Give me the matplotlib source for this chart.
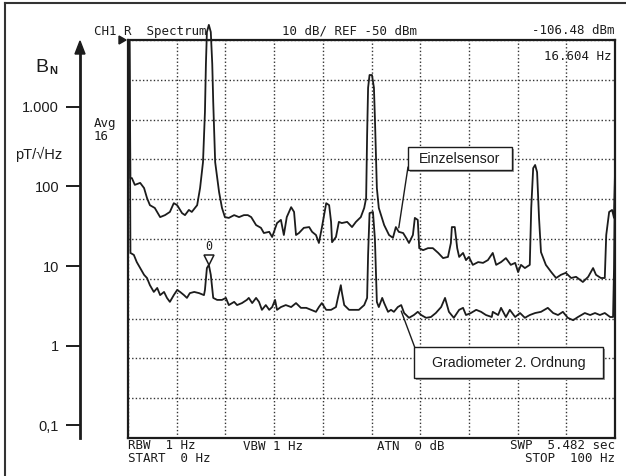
import numpy as np
import matplotlib
matplotlib.use('Agg')
import matplotlib.pyplot as plt
from matplotlib.lines import Line2D
from matplotlib.patches import Rectangle, Polygon
from matplotlib.transforms import offset_copy

# Einzelsensor trace: frequency (Hz) / level (dBm)
upper_f = [0.0, 0.3, 0.5, 0.8, 1.4, 2.5, 3.3, 3.9, 4.5, 5.5, 6.6, 7.6, 8.6, 9.4, 10.1,
           11.1, 11.7, 12.5, 13.1, 14.2, 14.8, 15.4, 15.8, 16.0, 16.2, 16.6, 17.0, 17.3,
           17.5, 17.9, 18.7, 19.3, 19.9, 20.7, 21.8, 22.8, 23.8, 24.6, 25.3, 26.3, 27.3,
           27.9, 29.0, 29.6, 30.6, 31.4, 32.0, 32.6, 33.5, 34.1, 34.5, 35.1, 36.1, 37.2,
           37.8, 38.6, 39.2, 39.8, 40.7, 41.3, 41.7, 41.9, 42.7, 43.3, 43.9, 45.0, 46.0,
           46.8, 47.8, 48.5, 48.9, 49.1, 49.3, 49.6, 50.1, 50.5, 50.7, 51.1, 51.5, 52.6,
           53.6, 54.4, 55.0, 55.6, 56.5, 57.1, 57.7, 58.5, 58.9, 59.5, 59.8, 60.6, 61.6,
           62.6, 63.7, 64.7, 65.7, 66.3, 66.5, 67.1, 67.6, 68.0, 68.8, 69.4, 70.0, 70.8,
           71.9, 72.9, 73.9, 74.9, 75.6, 76.6, 77.6, 78.6, 79.5, 80.1, 80.7, 81.5, 82.5,
           82.8, 83.2, 83.6, 84.0, 84.4, 84.8, 85.8, 86.9, 87.9, 88.9, 89.9, 91.0, 92.0,
           93.4, 94.5, 95.5, 96.1, 97.1, 97.9, 98.2, 98.8, 99.4, 99.8, 100.0]
upper_db = [-50, -50, -84.7, -84.7, -86.4, -85.9, -87.2, -89.7, -91.5, -92.2, -94.5, -94.0,
            -93.2, -91.0, -91.5, -93.5, -94.0, -92.7, -93.2, -91.5, -87.2, -80.7, -68.1,
            -56.0, -48.0, -46.2, -48.0, -56.0, -65.6, -80.7, -88.2, -92.2, -94.5, -94.7,
            -94.0, -94.5, -94.0, -94.0, -94.5, -96.5, -97.2, -98.5, -98.2, -99.5, -96.0,
            -95.2, -99.0, -94.5, -92.0, -93.2, -99.0, -98.5, -97.2, -97.0, -98.2, -99.0,
            -101.0, -97.2, -91.0, -91.5, -95.7, -100.8, -99.5, -95.7, -96.0, -95.7, -97.0,
            -95.7, -94.5, -92.2, -89.7, -73.9, -62.0, -58.8, -58.8, -62.0, -69.6, -87.2,
            -92.2, -96.5, -99.0, -99.7, -97.0, -98.2, -98.5, -99.7, -101.0, -99.0, -94.7,
            -95.2, -102.3, -102.8, -102.3, -102.3, -103.5, -104.8, -104.5, -101.0, -97.0,
            -97.0, -102.3, -104.5, -103.5, -105.3, -104.5, -106.5, -105.8, -106.0, -105.3,
            -103.5, -106.5, -105.8, -104.8, -106.5, -106.0, -108.3, -106.5, -107.3, -106.5,
            -92.2, -82.2, -81.4, -83.2, -94.7, -103.3, -106.5, -108.3, -109.8, -109.0,
            -108.5, -109.8, -109.5, -110.8, -109.5, -107.3, -109.0, -109.8, -109.8, -99.0,
            -93.2, -92.7, -94.7, -83.2]

# Gradiometer 2. Ordnung trace
lower_f = [0.0, 0.3, 0.5, 1.2, 1.8, 2.5, 3.3, 3.9, 4.5, 5.3, 6.0, 6.6, 7.4, 8.0, 8.6, 9.4,
           10.1, 10.7, 11.5, 12.1, 12.7, 13.6, 14.6, 15.6, 15.8, 16.2, 16.6, 17.0, 17.5,
           18.3, 19.3, 20.1, 20.7, 21.8, 22.4, 23.4, 24.4, 24.8, 25.5, 26.3, 26.9, 27.5,
           28.3, 29.0, 29.6, 30.2, 30.6, 31.4, 32.4, 33.5, 34.5, 35.5, 36.6, 37.6, 38.6,
           39.2, 39.8, 40.7, 41.7, 42.7, 43.1, 43.7, 43.9, 44.4, 45.4, 46.4, 47.4, 48.5,
           49.1, 49.3, 49.6, 50.3, 50.7, 51.1, 51.5, 52.2, 52.6, 53.4, 54.0, 54.6, 55.4,
           56.1, 56.7, 57.7, 58.7, 59.5, 60.2, 61.2, 62.2, 63.2, 64.3, 65.1, 65.9, 66.9,
           68.0, 68.8, 69.4, 70.4, 71.5, 72.5, 73.5, 74.7, 74.9, 76.0, 76.6, 77.6, 78.4,
           79.5, 80.5, 81.5, 82.5, 83.6, 84.8, 86.2, 87.3, 88.3, 89.3, 90.3, 91.4, 92.4,
           93.8, 94.9, 95.9, 96.9, 97.9, 99.0, 99.6, 99.8, 100.0]
lower_db = [-50, -50, -103.5, -104.0, -105.8, -107.3, -109.0, -109.8, -111.6, -113.3, -112.3,
            -114.1, -113.3, -114.8, -115.8, -114.1, -112.8, -113.3, -114.1, -114.8, -113.6,
            -113.3, -113.6, -114.1, -112.8, -107.3, -106.5, -109.0, -114.8, -115.3, -115.3,
            -114.8, -116.6, -115.8, -116.6, -116.1, -115.3, -114.8, -116.1, -114.8, -115.8,
            -117.8, -116.6, -117.8, -117.1, -115.3, -117.8, -117.1, -116.6, -117.1, -116.1,
            -117.3, -117.3, -117.8, -118.3, -117.1, -116.1, -117.8, -117.8, -117.1, -114.8,
            -111.6, -113.3, -116.6, -117.8, -117.8, -117.8, -116.6, -114.8, -104.0, -93.5,
            -93.2, -100.0, -115.8, -117.1, -114.8, -116.1, -118.3, -117.8, -118.3, -117.1,
            -116.6, -118.6, -119.8, -119.1, -118.3, -119.1, -119.8, -119.6, -118.6, -117.1,
            -114.8, -118.3, -119.8, -117.8, -117.3, -119.1, -118.6, -117.8, -118.3, -119.1,
            -119.6, -118.3, -119.1, -117.3, -119.6, -117.8, -119.6, -118.6, -119.8, -119.1,
            -118.6, -118.3, -117.3, -118.6, -119.1, -118.3, -119.8, -120.4, -119.6, -118.6,
            -119.1, -118.6, -119.1, -118.6, -119.6, -119.6, -107.3, -84.0]

grid_f = list(range(0, 101, 10))
grid_db = list(range(-150, -49, 10))

bn_ticks = [0.1, 1, 10, 100, 1000]
bn_labels = ['0,1', '1', '10', '100', '1.000']
db_at_10pT = -106.8

marker_f = 16.604
marker_db = -106.48

W, H = 626, 476
def fx(x):
    return x / W
def fy(y):
    return 1 - y / H

def to_bn(db):
    return 10 * 10 ** ((np.asarray(db) - db_at_10pT) / 20)

ink = '#1c1c1c'
mono = dict(family='DejaVu Sans Mono', fontsize=9, color=ink, va='center')
sans = ['Liberation Sans', 'DejaVu Sans']

fig = plt.figure(figsize=(6.26, 4.76), dpi=100)
fig.patch.set_facecolor('white')

ax = fig.add_axes([fx(128), fy(438), (615 - 128) / W, (438 - 40) / H])
ax.set_xlim(0, 100)
ax.set_ylim(-150, -50)
ax.set_xticks(grid_f)
ax.set_yticks(grid_db)
ax.tick_params(length=0, labelbottom=False, labelleft=False)
ax.grid(True, color='#333333', linestyle=(0, (1, 1.6)), linewidth=1.0)
for s in ax.spines.values():
    s.set_linewidth(1.6)
    s.set_color(ink)

ax.plot(upper_f, upper_db, color=ink, lw=1.3, clip_on=False)
ax.plot(lower_f, lower_db, color=ink, lw=1.3, clip_on=False)

# marker on the 16.6 Hz line
tri = offset_copy(ax.transData, fig=fig, x=0, y=3.5, units='points')
ax.plot([marker_f], [marker_db], marker='v', ms=7, mfc='white', mec=ink, mew=1.1,
        transform=tri, clip_on=False)
ax.annotate('0', (marker_f, marker_db), xytext=(0, 13), textcoords='offset points',
            ha='center', va='center', family='DejaVu Sans Mono', fontsize=8.5, color=ink)

# B_N axis on the left
ax2 = fig.add_axes(ax.get_position(), facecolor='none')
ax2.set_yscale('log')
ax2.set_ylim(to_bn(-150), to_bn(-50))
ax2.set_xticks([])
for k in ['top', 'right', 'bottom']:
    ax2.spines[k].set_visible(False)
ax2.spines['left'].set_position(('outward', 48 * 0.72))
ax2.spines['left'].set_bounds(to_bn(-150), to_bn(-53))
ax2.spines['left'].set_linewidth(2)
ax2.spines['left'].set_color(ink)
ax2.set_yticks(bn_ticks)
ax2.set_yticklabels(bn_labels)
ax2.yaxis.set_minor_locator(matplotlib.ticker.NullLocator())
ax2.tick_params(axis='y', direction='out', length=10, width=1.4, pad=5,
                labelsize=10.5, colors=ink)
for t in ax2.get_yticklabels():
    t.set_family(sans)

fig.add_artist(Polygon([(fx(80), fy(41)), (fx(75), fy(54)), (fx(85), fy(54))],
                       closed=True, color=ink, transform=fig.transFigure))
fig.text(fx(35), fy(67), 'B', family=sans, fontsize=14, color=ink, va='center')
fig.text(fx(49), fy(71), 'N', family=sans, fontsize=8, weight='bold', color=ink, va='center')
fig.text(fx(15), fy(154), 'pT/√Hz', family=sans, fontsize=10.5, color=ink, va='center')

# outer frame
fig.add_artist(Line2D([fx(5), fx(5)], [fy(3), fy(476)], color='#333333', lw=1.5))
fig.add_artist(Line2D([fx(5), fx(626)], [fy(3), fy(3)], color='#333333', lw=1.5))

# start marker
fig.add_artist(Polygon([(fx(119), fy(36)), (fx(119), fy(44)), (fx(126), fy(40))],
                       closed=True, color=ink, transform=fig.transFigure))

# instrument annotations
fig.text(fx(94), fy(31), 'CH1 R  Spectrum', **mono)
fig.text(fx(282), fy(31), '10 dB/ REF -50 dBm', **mono)
fig.text(fx(615), fy(31), '-106.48 dBm', ha='right', **mono)
fig.text(fx(612), fy(57), '16.604 Hz', ha='right', **mono)
fig.text(fx(94), fy(130), 'Avg\n16', linespacing=1.0, **mono)
fig.text(fx(128), fy(452), 'RBW  1 Hz\nSTART  0 Hz', linespacing=0.95, **mono)
fig.text(fx(243), fy(447), 'VBW 1 Hz', **mono)
fig.text(fx(377), fy(447), 'ATN  0 dB', **mono)
fig.text(fx(615), fy(452), 'SWP  5.482 sec\nSTOP  100 Hz', ha='right', multialignment='right',
         linespacing=0.95, **mono)

# labelled boxes with leader lines
ax.annotate('', xy=(55.6, -97.2), xytext=(fx(408), fy(167)), textcoords='figure fraction',
            arrowprops=dict(arrowstyle='-', lw=1, color=ink, shrinkA=0, shrinkB=0))
ax.annotate('', xy=(56.1, -118.1), xytext=(fx(415), fy(348)), textcoords='figure fraction',
            arrowprops=dict(arrowstyle='-', lw=1, color=ink, shrinkA=0, shrinkB=0))

def box(x0, y0, x1, y1, label):
    fig.add_artist(Rectangle((fx(x0 + 2), fy(y1 + 2)), (x1 - x0) / W, (y1 - y0) / H,
                             transform=fig.transFigure, facecolor='#9a9a9a', edgecolor='none'))
    fig.add_artist(Rectangle((fx(x0), fy(y1)), (x1 - x0) / W, (y1 - y0) / H,
                             transform=fig.transFigure, facecolor='white', edgecolor=ink, lw=1))
    fig.text(fx((x0 + x1) / 2), fy((y0 + y1) / 2 + 1), label, family=sans, fontsize=10.2,
             color=ink, ha='center', va='center')

box(408, 147, 512, 170, 'Einzelsensor')
box(414, 347, 603, 378, 'Gradiometer 2. Ordnung')

fig.savefig('out.png', dpi=100, facecolor='white')
